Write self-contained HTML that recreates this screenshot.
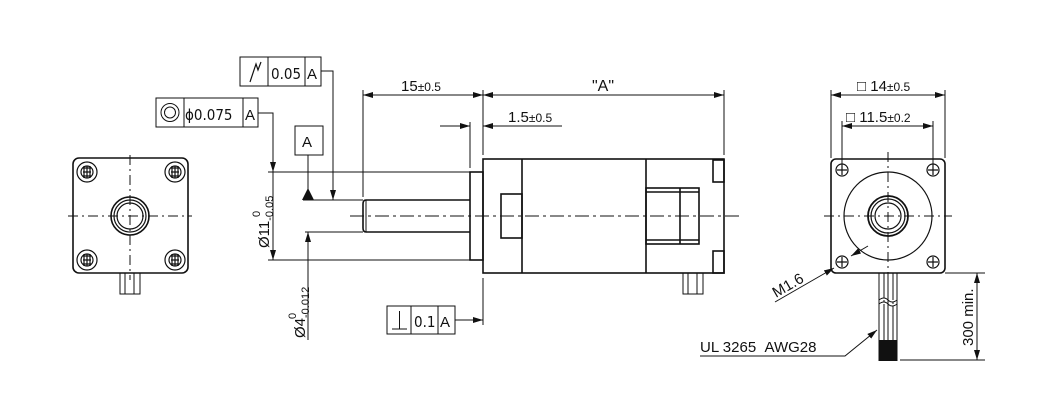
<!DOCTYPE html>
<html><head><meta charset="utf-8"><style>
html,body{margin:0;padding:0;background:#fff;width:1050px;height:411px;overflow:hidden}
text{font-family:"Liberation Sans",sans-serif;fill:#111}
</style></head><body>
<svg width="1050" height="411" viewBox="0 0 1050 411" xmlns="http://www.w3.org/2000/svg">
<defs>
<marker id="ar" viewBox="0 0 10 6" refX="10" refY="3" markerWidth="10" markerHeight="6" markerUnits="userSpaceOnUse" orient="auto-start-reverse"><path d="M0,0L10,3L0,6z" fill="#111"/></marker>
</defs>
<g stroke="#111" fill="none" stroke-width="1">
<!-- LEFT VIEW -->
<rect x="73" y="158" width="115" height="115" rx="6" stroke-width="1.6"/>
<g stroke-width="1.2">
<circle cx="87" cy="172" r="10"/><circle cx="87" cy="172" r="6"/>
<circle cx="175" cy="172" r="10"/><circle cx="175" cy="172" r="6"/>
<circle cx="87" cy="260" r="10"/><circle cx="87" cy="260" r="6"/>
<circle cx="175" cy="260" r="10"/><circle cx="175" cy="260" r="6"/>
<path d="M83 168h8M83 172h8M83 176h8M171 168h8M171 172h8M171 176h8M83 256h8M83 260h8M83 264h8M171 256h8M171 260h8M171 264h8"/>
<path d="M84 166v12M87 166v12M90 166v12M172 166v12M175 166v12M178 166v12M84 254v12M87 254v12M90 254v12M172 254v12M175 254v12M178 254v12"/>
<circle cx="130" cy="216" r="19" stroke-width="1.6"/><circle cx="130" cy="216" r="16"/><circle cx="130" cy="216" r="13"/>
</g>
<path d="M120 273v21h20v-21M125 273v21M134 273v21"/>
<path d="M68 216H192M130 155V280" stroke-dasharray="10,4,2,4"/>
<!-- SIDE VIEW -->
<g stroke-width="1.6">
<path d="M470 200H366q-3 0-3 4v24q0 4 3 4H470"/>
<rect x="470" y="172" width="13" height="88"/>
<rect x="483" y="159" width="241" height="114"/>
<path d="M522 159V273M646 159V273"/>
<rect x="501" y="194" width="21" height="44"/>
<rect x="646" y="188" width="53" height="56"/>
<path d="M680 188V244M646 192H699M646 240H699"/>
<rect x="713" y="160" width="11" height="22"/>
<rect x="713" y="251" width="11" height="22"/>
</g>
<path d="M683 273v21h20v-21M688 273v21M697 273v21"/>
<path d="M350 216H740" stroke-dasharray="14,4,3,4"/>
<path d="M366 200v32"/>
<path d="M363 90V197M483 90V155M724 90V155M470 122V168"/>
<path d="M363 95H483" marker-start="url(#ar)" marker-end="url(#ar)"/>
<path d="M483 95H724" marker-start="url(#ar)" marker-end="url(#ar)"/>
<path d="M440 126H470" marker-end="url(#ar)"/>
<path d="M562 126H483" marker-end="url(#ar)"/>
<path d="M268 172H470M268 260H470M303 200H363M305 232H363"/>
<path d="M273 160V260" marker-end="url(#ar)"/>
<path d="M258 113H273V172" marker-end="url(#ar)"/>
<path d="M321 71H333V200" marker-end="url(#ar)"/>
<rect x="295" y="126" width="28" height="29"/>
<path d="M308 155V200"/>
<path d="M308 340V232" marker-end="url(#ar)"/>
<rect x="240" y="57" width="81" height="29"/><path d="M268 57v29M305 57v29"/>
<path d="M250 82l6-18 2 6 3-8" stroke-width="1.2"/>
<rect x="156" y="98" width="102" height="29"/><path d="M184 98v29M243 98v29"/>
<circle cx="170" cy="112.5" r="9"/><circle cx="170" cy="112.5" r="5.5"/>
<rect x="387" y="306" width="68" height="28"/><path d="M411 306v28M438 306v28"/>
<path d="M392 329H407M399.5 311V329"/>
<path d="M455 320H483" marker-end="url(#ar)"/>
<path d="M483 278V325"/>
<!-- RIGHT VIEW -->
<rect x="831" y="159" width="114" height="114" rx="5" stroke-width="1.6"/>
<g stroke-width="1.2">
<circle cx="842" cy="170" r="6"/><circle cx="933" cy="170" r="6"/><circle cx="842" cy="262" r="6"/><circle cx="933" cy="262" r="6"/>
<path d="M837 170h10M842 165v10M928 170h10M933 165v10M837 262h10M842 257v10M928 262h10M933 257v10"/>
<circle cx="888" cy="216" r="44"/>
<circle cx="888" cy="216" r="20" stroke-width="1.8"/><circle cx="888" cy="216" r="17"/><circle cx="888" cy="216" r="13"/>
</g>
<path d="M824 216H952M888 152V290" stroke-dasharray="10,4,2,4"/>
<path d="M831 90V158M945 90V158M842 121V165M933 121V165"/>
<path d="M831 95H945" marker-start="url(#ar)" marker-end="url(#ar)"/>
<path d="M842 126H933" marker-start="url(#ar)" marker-end="url(#ar)"/>
<path d="M879 273V361M897 273V361M884 273V340M888 273V340M893 273V340"/>
<path d="M879 300q5-4 9 0t9 0M879 304q5-4 9 0t9 0" fill="#fff"/>
<rect x="879" y="340" width="18" height="21" fill="#111" stroke="none"/>
<path d="M945 273H985M900 360H985"/>
<path d="M977 273V360" marker-start="url(#ar)" marker-end="url(#ar)"/>
<path d="M775 302L834 268" marker-end="url(#ar)"/>
<path d="M868 246L851 256" marker-end="url(#ar)"/>
<path d="M700 356H845L877 330" marker-end="url(#ar)"/>
</g>
<polygon points="308,188 302,200 314,200" fill="#111"/>
<g font-size="15">
<text x="401" y="91">15<tspan font-size="12">±0.5</tspan></text>
<text x="592" y="91" font-size="16">"A"</text>
<text x="508" y="122">1.5<tspan font-size="12">±0.5</tspan></text>
<text x="271" y="79" font-size="15" style="font-family:'DejaVu Sans Condensed','DejaVu Sans',sans-serif">0.05</text>
<text x="307" y="79" font-size="15">A</text>
<text x="185" y="120" font-size="15" style="font-family:'DejaVu Sans Condensed','DejaVu Sans',sans-serif">ϕ0.075</text>
<text x="245" y="120" font-size="15">A</text>
<text x="302" y="147" font-size="15">A</text>
<text x="414" y="327" font-size="15" style="font-family:'DejaVu Sans Condensed','DejaVu Sans',sans-serif">0.1</text>
<text x="440" y="327" font-size="15">A</text>
<text transform="translate(269,248) rotate(-90)">Ø11<tspan font-size="11" dy="4">-0.05</tspan></text>
<text transform="translate(260,217) rotate(-90)" font-size="11">0</text>
<text transform="translate(305,338) rotate(-90)">Ø4<tspan font-size="11" dy="4">-0.012</tspan></text>
<text transform="translate(296,319) rotate(-90)" font-size="11">0</text>
<text x="857" y="91">□ 14<tspan font-size="12">±0.5</tspan></text>
<text x="846" y="122">□ 11.5<tspan font-size="12">±0.2</tspan></text>
<text transform="translate(776,298) rotate(-30)">M1.6</text>
<text x="700" y="352">UL 3265 &#160;AWG28</text>
<text transform="translate(973,346) rotate(-90)">300 min.</text>
</g>
</svg>
</body></html>
